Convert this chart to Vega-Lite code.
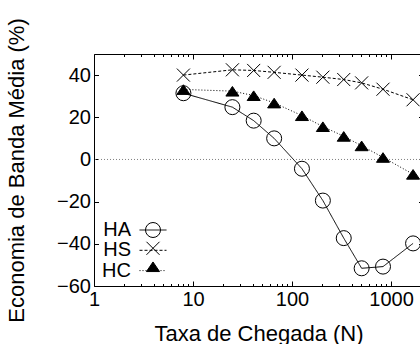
{
  "$schema": "https://vega.github.io/schema/vega-lite/v6.json",
  "width": 329,
  "height": 232,
  "autosize": "none",
  "padding": {"left": 94, "top": 54, "right": 0, "bottom": 58},
  "background": "white",
  "config": {
    "view": {"stroke": "black", "strokeWidth": 1},
    "font": "Liberation Sans",
    "axis": {"domain": false, "grid": false, "tickColor": "black", "tickWidth": 1, "labelColor": "black", "titleColor": "black", "labelFont": "Liberation Sans", "titleFont": "Liberation Sans", "labelFontSize": 20, "titleFontSize": 22, "titleFontWeight": "normal"},
    "legend": {"labelFont": "Liberation Sans", "labelColor": "black"}
  },
  "data": {
    "values": [
      {"N": 8, "value": 31.4, "series": "HA"},
      {"N": 25, "value": 24.8, "series": "HA"},
      {"N": 41, "value": 18.4, "series": "HA"},
      {"N": 66, "value": 10, "series": "HA"},
      {"N": 126, "value": -4.4, "series": "HA"},
      {"N": 205, "value": -19.5, "series": "HA"},
      {"N": 333, "value": -37.3, "series": "HA"},
      {"N": 505, "value": -51.6, "series": "HA"},
      {"N": 830, "value": -50.8, "series": "HA"},
      {"N": 1670, "value": -39.8, "series": "HA"},
      {"N": 8, "value": 40, "series": "HS"},
      {"N": 25, "value": 42.5, "series": "HS"},
      {"N": 41, "value": 42.2, "series": "HS"},
      {"N": 66, "value": 41.3, "series": "HS"},
      {"N": 126, "value": 40, "series": "HS"},
      {"N": 205, "value": 39, "series": "HS"},
      {"N": 333, "value": 37.9, "series": "HS"},
      {"N": 505, "value": 36.3, "series": "HS"},
      {"N": 830, "value": 33.3, "series": "HS"},
      {"N": 1670, "value": 28.3, "series": "HS"},
      {"N": 8, "value": 33.2, "series": "HC"},
      {"N": 25, "value": 32.4, "series": "HC"},
      {"N": 41, "value": 30.3, "series": "HC"},
      {"N": 66, "value": 26.8, "series": "HC"},
      {"N": 126, "value": 20.8, "series": "HC"},
      {"N": 205, "value": 15.6, "series": "HC"},
      {"N": 333, "value": 11, "series": "HC"},
      {"N": 505, "value": 6.5, "series": "HC"},
      {"N": 830, "value": 1, "series": "HC"},
      {"N": 1670, "value": -7, "series": "HC"}
    ]
  },
  "resolve": {"axis": {"x": "independent", "y": "independent"}},
  "layer": [
    {
      "data": {"values": [{"zero": 0}]},
      "mark": {"type": "rule", "color": "#808080", "strokeWidth": 1, "strokeDash": [1, 2]},
      "encoding": {
        "y": {"field": "zero", "type": "quantitative", "scale": {"domain": [-60, 50], "nice": false, "zero": false}, "axis": null}
      }
    },
    {
      "mark": {"type": "line", "color": "black", "strokeWidth": 1},
      "encoding": {
        "x": {"field": "N", "type": "quantitative",
          "scale": {"type": "log", "domain": [1, 2104], "nice": false},
          "axis": {"orient": "bottom", "title": "Taxa de Chegada (N)",
            "values": [1,2,3,4,5,6,7,8,9,10,20,30,40,50,60,70,80,90,100,200,300,400,500,600,700,800,900,1000,2000],
            "format": "d",
            "labelExpr": "indexof([1,10,100,1000], datum.value) >= 0 ? datum.label : ''",
            "labelOverlap": false, "labelFlush": false, "labelBound": false,
            "tickSize": {"condition": {"test": "indexof([1,10,100,1000], datum.value) >= 0", "value": -5}, "value": -2.5},
            "labelPadding": 8, "titlePadding": 12}},
        "y": {"field": "value", "type": "quantitative",
          "scale": {"domain": [-60, 50], "nice": false, "zero": false},
          "axis": {"orient": "left", "title": "Economia de Banda Média (%)",
            "values": [-60, -40, -20, 0, 20, 40], "tickSize": -4.5, "labelPadding": 8, "titlePadding": 28}},
        "strokeDash": {"field": "series", "type": "nominal", "sort": ["HA", "HS", "HC"],
          "scale": {"range": [[1, 0], [3, 2], [1, 2]]},
          "legend": {"orient": "none", "legendX": 45, "legendY": 167, "title": null, "padding": 0,
            "symbolType": "M-1,0L1,0", "symbolSize": 729, "symbolStrokeWidth": 1, "symbolStrokeColor": "black", "symbolFillColor": "transparent",
            "labelFontSize": 20, "labelAlign": "right", "labelOffset": -36, "clipHeight": 18, "rowPadding": 0.3,
            "encode": {"entries": {"update": {"width": {"value": 80}}}}}}
      }
    },
    {
      "mark": {"type": "point", "stroke": "black", "strokeWidth": 1, "size": 225, "opacity": 1},
      "encoding": {
        "x": {"field": "N", "type": "quantitative",
          "scale": {"type": "log", "domain": [1, 2104], "nice": false},
          "axis": {"orient": "top", "title": null, "labels": false,
            "values": [1,2,3,4,5,6,7,8,9,10,20,30,40,50,60,70,80,90,100,200,300,400,500,600,700,800,900,1000,2000],
            "tickSize": {"condition": {"test": "indexof([1,10,100,1000], datum.value) >= 0", "value": -5}, "value": -2.5}}},
        "y": {"field": "value", "type": "quantitative",
          "scale": {"domain": [-60, 50], "nice": false, "zero": false},
          "axis": {"orient": "right", "title": null, "labels": false, "values": [-60, -40, -20, 0, 20, 40], "tickSize": -4.5}},
        "shape": {"field": "series", "type": "nominal",
          "scale": {"domain": ["HA", "HS", "HC"], "range": ["circle", "M-0.87,-0.87L0.87,0.87M-0.87,0.87L0.87,-0.87", "M0,-0.62L0.87,0.66L-0.87,0.66Z"]},
          "legend": {"orient": "none", "legendX": 51, "legendY": 167, "title": null, "padding": 0,
            "symbolSize": 225, "symbolStrokeWidth": 1, "symbolStrokeColor": "black", "symbolOpacity": 1,
            "labelExpr": "''", "labelFontSize": 1, "labelOffset": 0, "clipHeight": 18, "rowPadding": 0.3,
            "encode": {"symbols": {"update": {"stroke": {"value": "black"}, "strokeWidth": {"value": 1}, "opacity": {"value": 1}}}}}},
        "fill": {"field": "series", "type": "nominal",
          "scale": {"domain": ["HA", "HS", "HC"], "range": ["transparent", "transparent", "black"]},
          "legend": {"orient": "none", "legendX": 51, "legendY": 167, "title": null, "padding": 0,
            "symbolSize": 225, "symbolStrokeWidth": 1, "symbolStrokeColor": "black", "symbolOpacity": 1,
            "labelExpr": "''", "labelFontSize": 1, "labelOffset": 0, "clipHeight": 18, "rowPadding": 0.3,
            "encode": {"symbols": {"update": {"stroke": {"value": "black"}, "strokeWidth": {"value": 1}, "opacity": {"value": 1}}}}}}
      }
    }
  ]
}
